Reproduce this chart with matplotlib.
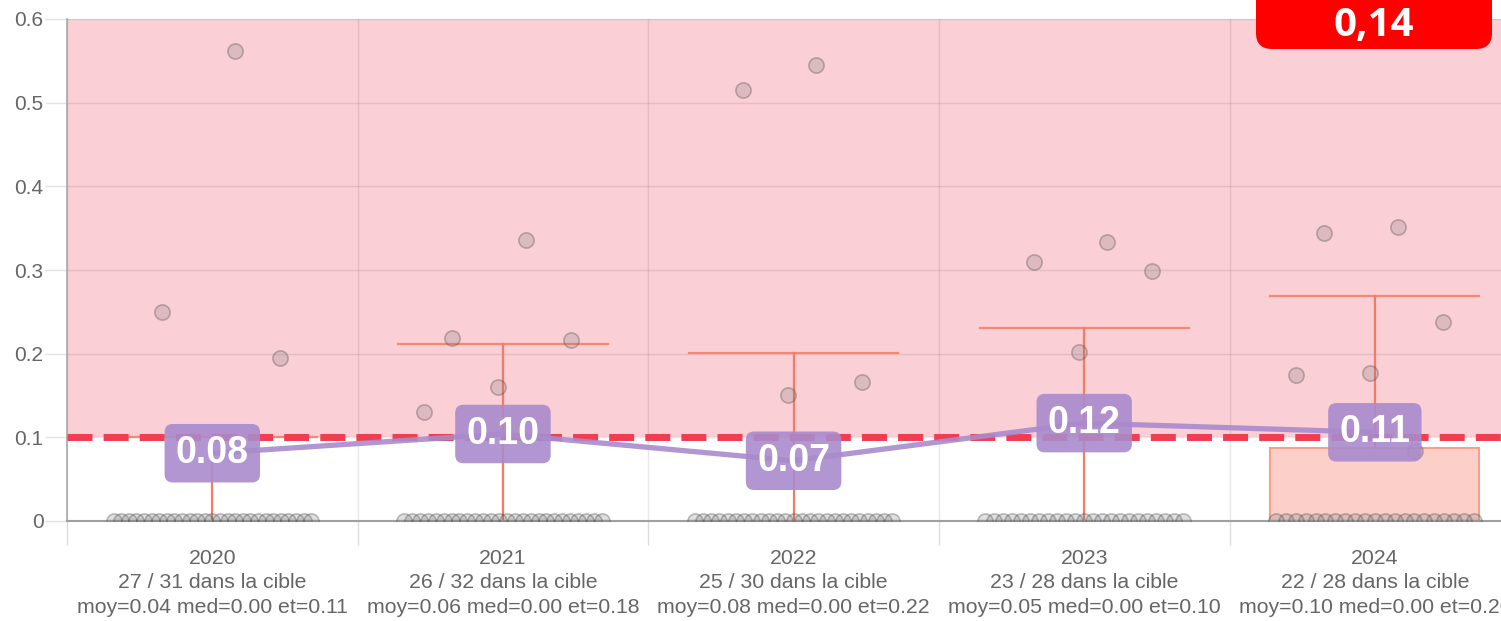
import matplotlib
matplotlib.use('Agg')
import matplotlib.pyplot as plt
import numpy as np
from matplotlib.patches import FancyBboxPatch
from matplotlib.transforms import IdentityTransform

# ---------------- data ----------------
years = ['2020', '2021', '2022', '2023', '2024']
in_target = ['27 / 31 dans la cible', '26 / 32 dans la cible', '25 / 30 dans la cible',
             '23 / 28 dans la cible', '22 / 28 dans la cible']
stats_text = ['moy=0.04 med=0.00 et=0.11', 'moy=0.06 med=0.00 et=0.18',
              'moy=0.08 med=0.00 et=0.22', 'moy=0.05 med=0.00 et=0.10',
              'moy=0.10 med=0.00 et=0.20']
nonzero_values = [
    [0.562, 0.250, 0.195],
    [0.336, 0.219, 0.216, 0.160, 0.130],
    [0.545, 0.515, 0.166, 0.151],
    [0.333, 0.310, 0.299, 0.202],
    [0.351, 0.344, 0.238, 0.177, 0.174, 0.084],
]
zero_counts = [27, 26, 25, 23, 21]
box_q1 = [0.0, 0.0, 0.0, 0.0, 0.0]
box_med = [0.0, 0.0, 0.0, 0.0, 0.0]
box_q3 = [0.0, 0.0, 0.0, 0.0, 0.087]
whisker_hi = [0.100, 0.211, 0.201, 0.231, 0.269]
mean_values = [0.081, 0.104, 0.072, 0.117, 0.106]
target = 0.1
ymax = 0.6
badge_value = '0,14'

# ---------------- styles ----------------
W, H = 1501, 621
pink = '#fbcfd6'
red_dash = '#f23c50'
orange = '#f47c62'
purple = '#a98bcc'
grey_txt = '#666666'

fig = plt.figure(figsize=(W / 100, H / 100), dpi=100)
ax = fig.add_axes([67 / W, 100 / H, (W - 67) / W, 502 / H])

x = np.arange(len(years))
ax.set_xlim(-0.5, 4.434)
ax.set_ylim(0, ymax)

# target zone
ax.axhspan(target, ymax, color=pink, zorder=0, lw=0)
ax.set_axisbelow(True)

# grid / ticks
yt = np.round(np.arange(0, ymax + 0.001, 0.1), 1)
ax.set_yticks(yt)
ax.set_yticklabels(['0' if v == 0 else f'{v:.1f}' for v in yt])
ax.yaxis.grid(True, which='major', color='black', alpha=0.09, lw=1)
ax.set_xticks(x)
ax.set_xticklabels([f'{y}\n{t}\n{s}' for y, t, s in zip(years, in_target, stats_text)],
                   linespacing=1.36)
ax.set_xticks(np.arange(-0.5, 4.5, 1.0), minor=True)
ax.xaxis.grid(True, which='minor', color='black', alpha=0.09, lw=1)
ax.tick_params(axis='x', which='major', length=0, pad=20, labelsize=15.3, labelcolor=grey_txt)
ax.tick_params(axis='x', which='minor', length=17, width=1, color='#dcdcdc', direction='out')
ax.tick_params(axis='y', which='major', length=16, width=1, color='#e3e3e3', pad=1,
               labelsize=15, labelcolor=grey_txt)
for lab in ax.get_xticklabels() + ax.get_yticklabels():
    lab.set_fontfamily('Liberation Sans')
for s in ['top', 'right']:
    ax.spines[s].set_visible(False)
ax.spines['left'].set_color('#a8a8a8')
ax.spines['bottom'].set_color('#a0a0a0')
ax.spines['left'].set_linewidth(1.2)
ax.spines['bottom'].set_linewidth(1.5)

# box plots
bstats = []
for i in range(len(years)):
    bstats.append(dict(med=box_med[i], q1=box_q1[i], q3=box_q3[i],
                       whislo=box_q1[i], whishi=whisker_hi[i], fliers=[]))
ax.bxp(bstats, positions=x, widths=0.72, capwidths=0.72, showfliers=False, patch_artist=True,
       boxprops=dict(facecolor='#fcd0c8', edgecolor='#f4a08c', lw=1.5),
       whiskerprops=dict(color=orange, lw=1.6),
       capprops=dict(color=orange, lw=1.6, alpha=0.85),
       medianprops=dict(color='#f4a08c', lw=1.5), manage_ticks=False, zorder=2)

# target dashed line
ax.axhline(target, color=red_dash, lw=5, dashes=(3.6, 1.6), zorder=2.6)

# individual points
golden = 0.6180339887
for i in range(len(years)):
    nz = np.array(nonzero_values[i])
    xo = np.array([((k + 1) * golden) % 1.0 - 0.5 for k in range(len(nz))]) * 0.66
    xs = np.concatenate([i + xo, i + np.linspace(-0.34, 0.34, zero_counts[i])])
    ys = np.concatenate([nz, np.zeros(zero_counts[i])])
    ax.scatter(xs, ys, s=120, facecolor=(0.45, 0.45, 0.45, 0.22),
               edgecolor=(0.3, 0.3, 0.3, 0.35), lw=1.2, zorder=3)

# mean line and labels
ax.plot(x, mean_values, color=purple, lw=3.8, alpha=0.9, zorder=4, solid_capstyle='round')
for i, m in enumerate(mean_values):
    ax.text(i, m, f'{m:.2f}', ha='center', va='center', fontsize=27, fontweight='bold',
            family='Liberation Sans', color='white', zorder=5,
            bbox=dict(boxstyle='round,pad=0.3,rounding_size=0.22',
                      fc=(0.663, 0.545, 0.80, 0.9), ec='none'))

# badge at top-right
badge = FancyBboxPatch((1256, H - 49), 236, 80, boxstyle='round,pad=0,rounding_size=16',
                       transform=IdentityTransform(), fc='#ff0000', ec='none', clip_on=False)
fig.add_artist(badge)
fig.text(1374, H - 36, badge_value, transform=IdentityTransform(), ha='center', va='baseline',
         fontsize=29, fontweight='bold', family='Open Sans', color='white')

fig.savefig('out.png', dpi=100)
